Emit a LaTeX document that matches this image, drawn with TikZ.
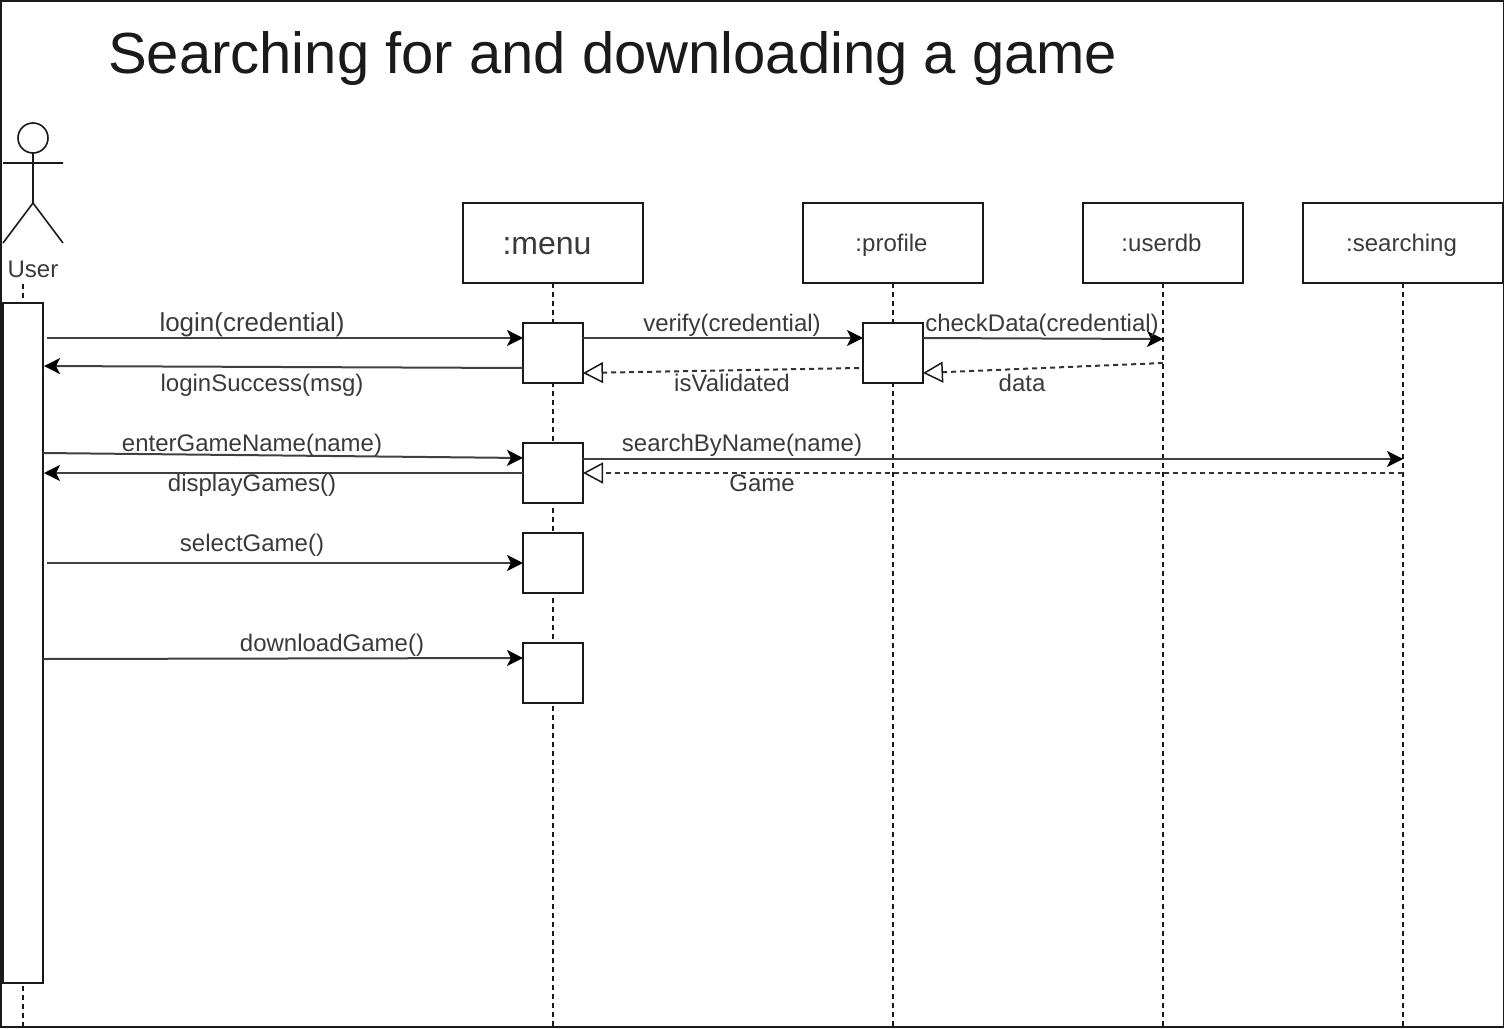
\documentclass[tikz,border=0pt]{standalone}
\usepackage{fontspec}
\setmainfont{Liberation Sans}
\usetikzlibrary{arrows.meta}
\definecolor{txt}{HTML}{3A3A3A}
\definecolor{ink}{HTML}{1A1A1A}
\tikzset{x=1pt,y=-1pt,
box/.style={draw=ink,line width=1.6pt,outer sep=0pt,fill=white,minimum width=#1,inner sep=0pt,anchor=north west,minimum height=80pt,text height=16pt,text depth=0pt,text=txt,font=\fontsize{24}{28}\selectfont},
act/.style={draw=ink,line width=1.6pt,outer sep=0pt,fill=white,minimum width=60pt,minimum height=60pt,inner sep=0pt,anchor=north west},
life/.style={ink,line width=1.5pt,dash pattern=on 5pt off 4pt},
msg/.style={line width=2pt,black!75,-{Stealth[length=16pt,width=16pt,inset=4pt,black]}},
ret/.style={black!80,line width=2pt,dash pattern=on 5pt off 4pt,-{Triangle[open,length=20pt,width=21pt,fill=white,ink,line width=1.5pt]}},
lab/.style={inner sep=0pt,anchor=base,font=\fontsize{24}{28}\selectfont,text=txt}}
\begin{document}
\begin{tikzpicture}
\useasboundingbox (0,0) rectangle (1504,1028);
\draw[line width=2pt,ink] (0.5,0.5) rectangle (1503.5,1027);
\node[inner sep=0pt,anchor=base west,text=ink,font=\fontsize{58}{62}\selectfont] (title) at (108,73) {Searching for and downloading a game};
% actor
\draw[ink,line width=1.6pt] (33,138) circle (15);
\coordinate (ah) at (33,153);\coordinate (ab) at (33,203);
\draw[ink,line width=1.6pt] (ah)--(ab) (3,163)--(63,163) (3,243)--(ab)--(63,243);
\node[lab] (user) at (33,277.5) {User};
% lifelines
\coordinate (l0t) at (23,284);\coordinate (l0b) at (23,1027);
\coordinate (l1b) at (553,1027);\coordinate (l2b) at (893,1027);\coordinate (l3b) at (1163,1027);\coordinate (l4b) at (1403,1027);
\node[box=180pt,text height=22pt,font=\fontsize{32}{36}\selectfont] (menu) at (463,203) {:menu\kern12pt};
\node[box=180pt] (profile) at (803,203) {:profile\kern3pt};
\node[box=160pt] (userdb) at (1083,203) {:userdb\kern3pt};
\node[box=200pt] (searching) at (1303,203) {:searching\kern3pt};
\draw[life] (l0t)--(l0b);
\draw[life] (553,283)--(l1b);
\draw[life] (893,283)--(l2b);
\draw[life] (1163,283)--(l3b);
\draw[life] (1403,283)--(l4b);
\node[draw=ink,line width=1.6pt,outer sep=0pt,fill=white,minimum width=40pt,minimum height=680pt,inner sep=0pt,anchor=north west] (ua) at (3,303) {};
\node[act] (a1) at (523,323) {};
\node[act] (a2) at (523,443) {};
\node[act] (a3) at (523,533) {};
\node[act] (a4) at (523,643) {};
\node[act] (p1) at (863,323) {};
% messages
\draw[msg] (47,338)--(a1.west|-0,338);
\draw[msg] (a1.west|-0,368)--(44,366);
\draw[ret] (859,368)--(583,373);
\draw[ret] (1163,363)--(923,373);
\draw[msg] (a1.east|-0,338)--(p1.west|-0,338);
\draw[msg] (p1.east|-0,338)--(1163,339);
\draw[msg] (43,453)--(523,458);
\draw[msg] (523,473)--(44,473);
\draw[msg] (583,459)--(1403,459);
\draw[ret] (1403,473)--(583,473);
\draw[msg] (47,563)--(523,563);
\draw[msg] (43,659)--(523,658);
% labels
\node[lab,font=\fontsize{26}{30}\selectfont] (m1) at (252,331.5) {login(credential)};
\node[lab] (m2) at (262,391.5) {loginSuccess(msg)};
\node[lab] (m3) at (732,331.5) {verify(credential)};
\node[lab] (m4) at (732,391.5) {isValidated};
\node[lab] (m5) at (1042,331.5) {checkData(credential)};
\node[lab] (m6) at (1022,391.5) {data};
\node[lab] (m7) at (252,451.5) {enterGameName(name)};
\node[lab] (m8) at (252,491.5) {displayGames()};
\node[lab] (m9) at (742,451.5) {searchByName(name)};
\node[lab] (m10) at (762,491.5) {Game};
\node[lab] (m11) at (252,551.5) {selectGame()};
\node[lab] (m12) at (332,651.5) {downloadGame()};
\end{tikzpicture}
\end{document}
